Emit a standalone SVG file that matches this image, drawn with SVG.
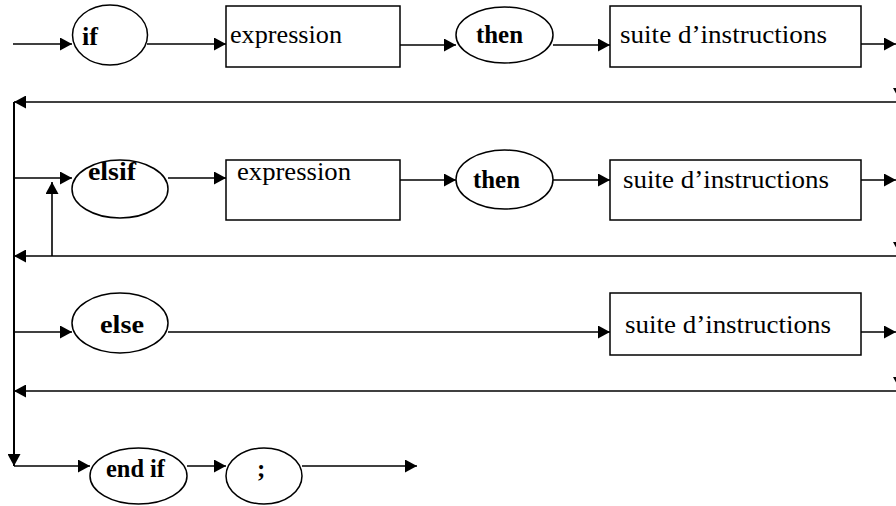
<svg xmlns="http://www.w3.org/2000/svg" width="896" height="506" viewBox="0 0 896 506">
<defs>
<marker id="arr" markerUnits="userSpaceOnUse" markerWidth="13" markerHeight="13" refX="12" refY="6.5" orient="auto">
<path d="M0,0 L12,6.5 L0,13 z" fill="#000"/>
</marker>
<style>
.n{fill:#fff;stroke:#000;stroke-width:1.5}
.t{font-family:"Liberation Serif","Times New Roman",serif;font-size:25px;fill:#000}
.b{font-weight:bold}
.c line,.c polyline{stroke:#000;stroke-width:1.3;fill:none}
.c .a{marker-end:url(#arr)}
</style>
</defs>
<rect width="896" height="506" fill="#fff"/>
<g class="c" id="connectors">
<line class="a" x1="13" y1="44" x2="72" y2="44"/>
<line class="a" x1="147" y1="44" x2="226" y2="44"/>
<line class="a" x1="400" y1="45" x2="456" y2="45"/>
<line class="a" x1="553" y1="45" x2="610" y2="45"/>
<line class="a" x1="861" y1="44" x2="896" y2="44"/>
<line class="a" x1="896" y1="102" x2="14" y2="102"/>
<line class="a" x1="14" y1="102" x2="14" y2="466" style="stroke-width:2"/>
<line class="a" x1="14" y1="178" x2="72" y2="178"/>
<line class="a" x1="168" y1="178" x2="226" y2="178"/>
<line class="a" x1="400" y1="180" x2="456" y2="180"/>
<line class="a" x1="553" y1="180" x2="610" y2="180"/>
<line class="a" x1="861" y1="180" x2="896" y2="180"/>
<line class="a" x1="896" y1="256" x2="14" y2="256"/>
<line class="a" x1="52" y1="256" x2="52" y2="182" style="stroke-width:1.6"/>
<line class="a" x1="14" y1="332" x2="72" y2="332"/>
<line class="a" x1="168" y1="332" x2="610" y2="332"/>
<line class="a" x1="861" y1="332" x2="896" y2="332"/>
<line class="a" x1="896" y1="391" x2="14" y2="391"/>
<line class="a" x1="14" y1="466" x2="90" y2="466"/>
<line class="a" x1="187" y1="466" x2="226" y2="466"/>
<line class="a" x1="302" y1="466" x2="417" y2="466"/>
<polygon points="893,88 905,88 899,99" fill="#000"/>
<polygon points="893,242 905,242 899,253" fill="#000"/>
<polygon points="893,377 905,377 899,388" fill="#000"/>
</g>
<g id="if"><ellipse class="n" cx="110" cy="35" rx="37.5" ry="30"/><text class="t b" x="82" y="45" textLength="16" lengthAdjust="spacingAndGlyphs">if</text></g>
<g id="expr1"><rect class="n" x="226" y="6" width="174" height="61"/><text class="t" x="230" y="43" textLength="112" lengthAdjust="spacingAndGlyphs">expression</text></g>
<g id="then1"><ellipse class="n" cx="504.5" cy="35" rx="48.5" ry="28"/><text class="t b" x="476" y="43" textLength="47" lengthAdjust="spacingAndGlyphs">then</text></g>
<g id="suite1"><rect class="n" x="610" y="6" width="251" height="61"/><text class="t" x="620" y="43" textLength="207" lengthAdjust="spacingAndGlyphs">suite d’instructions</text></g>
<g id="elsif"><ellipse class="n" cx="120" cy="189" rx="48" ry="29"/><text class="t b" x="88" y="180" textLength="48" lengthAdjust="spacingAndGlyphs">elsif</text></g>
<g id="expr2"><rect class="n" x="226" y="160" width="174" height="60"/><text class="t" x="237" y="180" textLength="114" lengthAdjust="spacingAndGlyphs">expression</text></g>
<g id="then2"><ellipse class="n" cx="504.5" cy="179.5" rx="48.5" ry="29.5"/><text class="t b" x="473" y="188" textLength="47" lengthAdjust="spacingAndGlyphs">then</text></g>
<g id="suite2"><rect class="n" x="610" y="160" width="251" height="60"/><text class="t" x="623" y="188" textLength="206" lengthAdjust="spacingAndGlyphs">suite d’instructions</text></g>
<g id="else"><ellipse class="n" cx="120" cy="323" rx="48" ry="30"/><text class="t b" x="100" y="333" textLength="44" lengthAdjust="spacingAndGlyphs">else</text></g>
<g id="suite3"><rect class="n" x="610" y="293" width="251" height="62"/><text class="t" x="625" y="333" textLength="206" lengthAdjust="spacingAndGlyphs">suite d’instructions</text></g>
<g id="endif"><ellipse class="n" cx="138.5" cy="476" rx="48.5" ry="28"/><text class="t b" x="106" y="477" textLength="59" lengthAdjust="spacingAndGlyphs">end if</text></g>
<g id="semi"><ellipse class="n" cx="264" cy="476" rx="38" ry="28"/><text class="t b" x="257" y="477">;</text></g>
</svg>
